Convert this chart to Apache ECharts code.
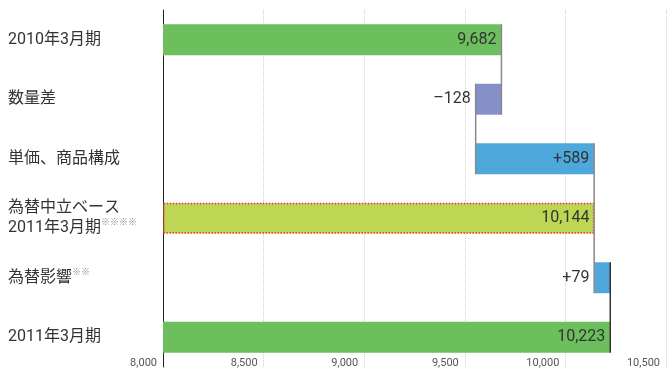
<!DOCTYPE html>
<html>
<head>
<meta charset="utf-8">
<script src="https://cdn.jsdelivr.net/npm/echarts@6/dist/echarts.min.js"></script>
<style>
  html, body { margin: 0; padding: 0; background: #fff; }
  #chart { width: 667px; height: 370px; }
</style>
</head>
<body>
<div id="chart"></div>
<script>
const categories = [
  "2010年3月期",
  "数量差",
  "単価、商品構成",
  "為替中立ベース\n2011年3月期{s|※※※※}",
  "為替影響{s|※※}",
  "2011年3月期",
];
const barStart = [8000, 9554, 9554, 8000, 10144, 8000];
const barEnd = [9682, 9682, 10143, 10144, 10223, 10223];
const valueLabels = ["9,682", "–128", "+589", "10,144", "+79", "10,223"];
// connector lines: [value, from row, to row]
const connectors = [
  [9682, 0, 1],
  [9554, 1, 2],
  [10143, 2, 4],
  [10223, 4, 5],
];
const xTicks = [8000, 8500, 9000, 9500, 10000, 10500];

const colors = ["#6cbf5c", "#8590c8", "#4fa8dc", "#bdd754", "#4fa8dc", "#6cbf5c"];
const labelPos = ["insideRight", "left", "insideRight", "insideRight", "left", "insideRight"];

const chart = echarts.init(document.getElementById("chart"), null, { renderer: "canvas" });
const font = "Roboto, 'Noto Sans CJK JP', sans-serif";

chart.setOption({
  animation: false,
  backgroundColor: "#fff",
  grid: { left: 163, right: 1, top: 10, bottom: 3, containLabel: false },
  xAxis: {
    type: "value",
    min: xTicks[0],
    max: xTicks[xTicks.length - 1],
    interval: 500,
    axisLine: { show: false },
    axisTick: { show: false },
    splitLine: { show: true, lineStyle: { color: "#cfcfcf", type: "dotted", width: 1 } },
    axisLabel: {
      margin: -4,
      align: "right",
      verticalAlign: "middle",
      padding: [0, 6, 0, 0],
      color: "#555",
      fontSize: 11,
      fontFamily: font,
      formatter: (v) => v.toLocaleString("en-US"),
    },
  },
  yAxis: {
    type: "category",
    inverse: true,
    data: categories,
    axisLine: { show: true, lineStyle: { color: "#222", width: 1 } },
    axisTick: { show: false },
    axisLabel: {
      align: "left",
      margin: 155,
      color: "#333",
      fontSize: 16,
      lineHeight: 20,
      fontFamily: font,
      rich: {
        s: { fontSize: 9, color: "#888", verticalAlign: "top", padding: [0, 0, 8, 0], fontFamily: font },
      },
    },
  },
  series: [
    {
      type: "bar",
      stack: "w",
      barWidth: "52%",
      silent: true,
      itemStyle: { color: "transparent" },
      data: barStart,
    },
    {
      type: "bar",
      stack: "w",
      barWidth: "52%",
      data: barEnd.map((e, i) => ({
        value: e - barStart[i],
        itemStyle: i === 3
          ? { color: colors[i], borderColor: "#f0281e", borderWidth: 1.5, borderType: [1.5, 1.5] }
          : { color: colors[i] },
        label: { show: true, position: labelPos[i] },
      })),
      label: {
        color: "#333",
        fontSize: 16,
        fontFamily: font,
        distance: 5,
        formatter: (p) => valueLabels[p.dataIndex],
      },
    },
    {
      type: "custom",
      z: 5,
      silent: true,
      encode: { x: 0, y: 1 },
      data: connectors,
      renderItem: (params, api) => {
        const half = api.size([0, 1])[1] * 0.26;
        const a = api.coord([api.value(0), api.value(1)]);
        const b = api.coord([api.value(0), api.value(2)]);
        const last = params.dataIndex === connectors.length - 1;
        return {
          type: "line",
          shape: { x1: a[0], y1: a[1] - half, x2: b[0], y2: b[1] + half },
          style: { stroke: last ? "#333" : "#888", lineWidth: 1.5 },
        };
      },
    },
  ],
});
</script>
</body>
</html>
